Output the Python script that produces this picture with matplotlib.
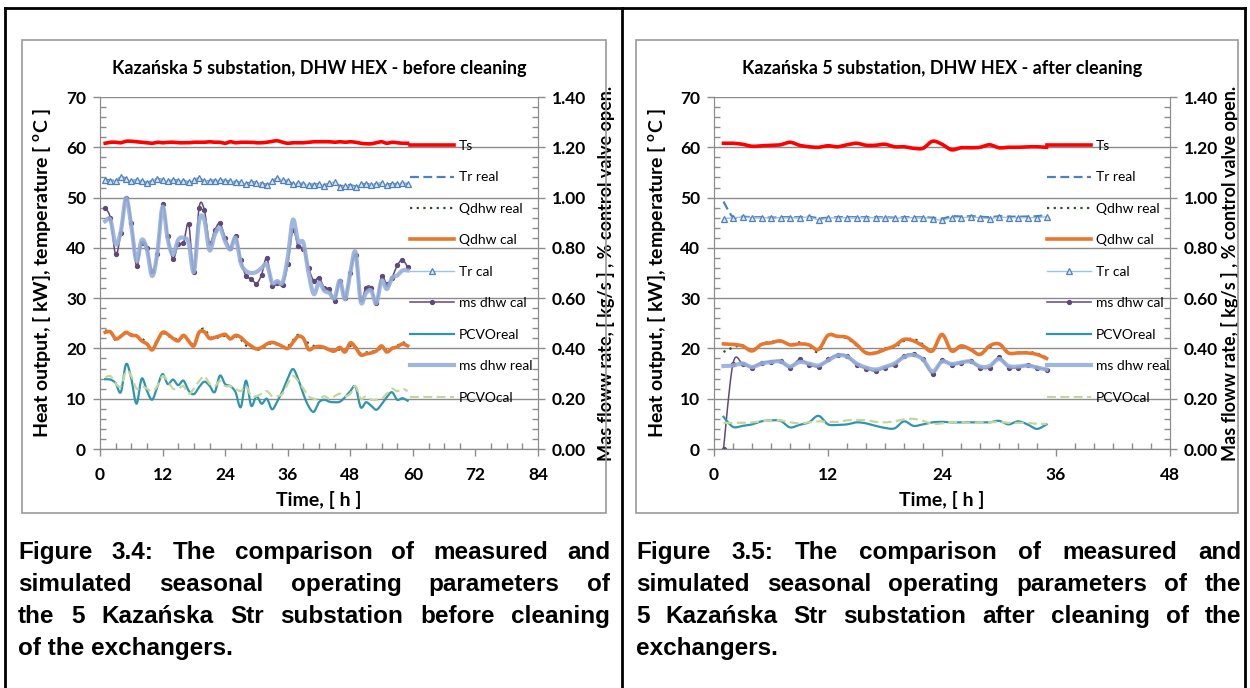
import numpy as np
import matplotlib
matplotlib.use('Agg')
import matplotlib.pyplot as plt
from matplotlib.lines import Line2D
from matplotlib.patches import Rectangle
from matplotlib.font_manager import FontProperties
from matplotlib.ticker import MultipleLocator, FormatStrFormatter

plt.rcParams['font.family'] = ['Lato', 'DejaVu Sans']

# ---- data, "before cleaning" (hours 1..59) ----
hours_a = list(range(1, 60))
ts_a = [60.8, 61.0, 61.0, 60.9, 61.2, 61.2, 61.1, 61.0, 60.9, 60.8,
        61.0, 60.9, 61.0, 61.0, 60.9, 60.9, 60.9, 61.0, 61.0, 61.0,
        61.1, 61.0, 61.0, 60.8, 61.1, 60.9, 61.0, 61.0, 61.0, 60.9,
        60.9, 61.0, 61.2, 61.3, 61.0, 60.8, 60.9, 60.9, 60.9, 61.0,
        61.1, 61.1, 61.1, 61.1, 61.0, 61.1, 61.0, 61.1, 61.0, 60.8,
        60.7, 60.7, 60.9, 61.1, 60.8, 61.0, 60.9, 60.8, 60.8]
tr_real_a = [53.6, 53.4, 53.4, 54.0, 53.8, 53.3, 53.5, 53.4, 52.9, 53.4,
             53.7, 53.5, 53.3, 53.4, 53.4, 53.3, 53.1, 53.5, 53.8, 53.3,
             53.3, 53.4, 53.5, 53.3, 53.3, 53.1, 53.0, 52.8, 53.0, 53.0,
             52.8, 52.6, 53.2, 53.8, 53.4, 53.3, 52.7, 52.8, 52.7, 52.6,
             52.6, 52.7, 52.5, 52.8, 53.0, 52.3, 52.4, 52.5, 52.2, 52.6,
             52.7, 52.6, 52.7, 52.8, 52.6, 52.7, 52.7, 52.8, 52.7]
tr_cal_a = [53.5, 53.3, 53.3, 54.0, 53.7, 53.2, 53.5, 53.3, 52.8, 53.3,
            53.7, 53.4, 53.2, 53.4, 53.3, 53.3, 53.0, 53.5, 53.8, 53.2,
            53.3, 53.3, 53.5, 53.3, 53.2, 53.0, 53.0, 52.7, 53.0, 52.9,
            52.7, 52.5, 53.2, 53.8, 53.4, 53.3, 52.6, 52.8, 52.6, 52.5,
            52.5, 52.7, 52.4, 52.8, 53.0, 52.2, 52.3, 52.4, 52.1, 52.6,
            52.6, 52.5, 52.7, 52.8, 52.5, 52.6, 52.7, 52.8, 52.6]
q_real_a = [23.5, 23.4, 21.6, 22.5, 23.0, 22.8, 22.4, 22.0, 21.0, 19.9,
            21.7, 23.0, 22.5, 22.1, 21.8, 22.3, 21.7, 20.8, 23.3, 23.9,
            22.4, 22.0, 22.3, 22.5, 22.0, 22.4, 21.8, 20.6, 20.2, 19.7,
            20.0, 20.7, 21.0, 20.8, 20.4, 20.4, 21.6, 22.7, 22.0, 21.0,
            20.5, 20.3, 20.1, 19.6, 19.4, 19.8, 19.6, 20.5, 20.3, 19.0,
            19.2, 19.3, 19.6, 20.0, 19.7, 20.1, 20.5, 21.2, 20.8]
q_cal_a = [23.2, 23.3, 21.9, 22.4, 23.2, 22.6, 22.5, 21.5, 20.9, 19.7,
           21.5, 23.2, 22.8, 22.0, 21.5, 22.6, 21.5, 20.5, 23.2, 23.3,
           22.0, 22.2, 22.5, 22.8, 21.9, 22.6, 22.2, 21.2, 20.5, 19.9,
           20.2, 20.9, 21.2, 20.9, 20.4, 20.0, 21.2, 22.4, 22.0, 19.8,
           20.2, 20.4, 20.2, 19.7, 19.5, 20.2, 19.3, 21.1, 20.2, 18.7,
           18.9, 19.1, 19.5, 20.5, 19.3, 20.0, 20.3, 20.9, 20.5]
# mass flow [kg/s] and valve opening [-] on the secondary axis
ms_cal_a = [0.958, 0.918, 0.774, 0.860, 1.000, 0.900, 0.728, 0.820, 0.800, 0.708,
            0.774, 0.974, 0.846, 0.756, 0.814, 0.820, 0.896, 0.704, 0.960, 0.952,
            0.820, 0.870, 0.898, 0.840, 0.800, 0.846, 0.752, 0.688, 0.678, 0.658,
            0.694, 0.760, 0.648, 0.662, 0.652, 0.734, 0.872, 0.806, 0.796, 0.720,
            0.670, 0.682, 0.642, 0.636, 0.590, 0.668, 0.602, 0.700, 0.770, 0.596,
            0.642, 0.642, 0.582, 0.688, 0.656, 0.682, 0.730, 0.752, 0.724]
ms_real_a = [0.906, 0.912, 0.814, 0.866, 0.998, 0.886, 0.748, 0.832, 0.794, 0.688,
             0.780, 0.964, 0.832, 0.774, 0.832, 0.840, 0.820, 0.704, 0.906, 0.912,
             0.790, 0.852, 0.880, 0.826, 0.794, 0.840, 0.740, 0.708, 0.700, 0.704,
             0.720, 0.734, 0.662, 0.668, 0.662, 0.760, 0.912, 0.826, 0.820, 0.700,
             0.616, 0.662, 0.630, 0.620, 0.600, 0.670, 0.596, 0.700, 0.784, 0.586,
             0.620, 0.630, 0.580, 0.670, 0.636, 0.680, 0.690, 0.710, 0.710]
pcvo_real_a = [0.278, 0.276, 0.262, 0.226, 0.338, 0.280, 0.180, 0.280, 0.232, 0.196,
               0.248, 0.298, 0.258, 0.276, 0.254, 0.272, 0.232, 0.218, 0.246, 0.268,
               0.252, 0.226, 0.292, 0.258, 0.250, 0.226, 0.166, 0.272, 0.172, 0.210,
               0.180, 0.200, 0.158, 0.190, 0.230, 0.280, 0.318, 0.278, 0.218, 0.170,
               0.148, 0.186, 0.196, 0.188, 0.186, 0.188, 0.206, 0.230, 0.248, 0.166,
               0.186, 0.172, 0.156, 0.178, 0.206, 0.226, 0.196, 0.202, 0.192]
pcvo_cal_a = [0.284, 0.290, 0.260, 0.250, 0.310, 0.290, 0.240, 0.250, 0.240, 0.230,
              0.250, 0.290, 0.270, 0.240, 0.240, 0.250, 0.220, 0.240, 0.270, 0.290,
              0.260, 0.250, 0.270, 0.250, 0.250, 0.240, 0.230, 0.250, 0.210, 0.210,
              0.220, 0.230, 0.210, 0.210, 0.220, 0.260, 0.290, 0.270, 0.240, 0.210,
              0.200, 0.200, 0.210, 0.200, 0.210, 0.220, 0.210, 0.220, 0.250, 0.200,
              0.210, 0.196, 0.196, 0.200, 0.220, 0.240, 0.230, 0.240, 0.230]

# ---- data, "after cleaning" (hours 1..35) ----
hours_b = list(range(1, 36))
ts_b = [60.8, 60.8, 60.6, 60.2, 60.3, 60.4, 60.5, 61.0, 60.4, 60.1,
        60.0, 60.3, 60.1, 60.5, 60.8, 60.4, 60.4, 60.6, 60.1, 60.1,
        59.8, 59.8, 61.2, 60.6, 59.5, 59.9, 59.9, 60.0, 60.5, 59.9,
        60.0, 60.0, 60.1, 60.1, 60.0]
tr_real_b = [49.2, 46.1, 46.2, 46.1, 46.1, 46.0, 46.1, 46.1, 46.1, 46.2,
             45.9, 46.0, 46.1, 46.1, 46.1, 46.1, 46.1, 46.1, 46.0, 46.1,
             46.1, 46.1, 46.0, 45.8, 46.3, 46.2, 46.3, 46.2, 46.1, 46.3,
             46.2, 46.2, 46.2, 46.3, 46.5]
tr_cal_b = [45.8, 46.0, 46.1, 46.0, 46.0, 45.9, 46.0, 46.0, 46.0, 46.1,
            45.6, 45.9, 46.0, 46.0, 46.0, 46.0, 46.0, 46.0, 45.9, 46.0,
            46.0, 46.0, 45.8, 45.5, 46.0, 46.0, 46.1, 46.0, 45.8, 46.1,
            46.0, 46.0, 46.0, 46.0, 46.2]
q_real_b = [19.3, 20.2, 20.6, 19.7, 20.9, 21.3, 21.4, 20.8, 21.2, 20.6,
            19.3, 22.7, 22.5, 22.0, 20.6, 19.2, 19.2, 20.0, 20.2, 21.5,
            21.9, 20.8, 19.6, 22.6, 19.7, 20.4, 19.9, 18.9, 20.2, 21.0,
            19.2, 19.2, 19.3, 19.0, 18.2]
q_cal_b = [20.9, 20.8, 20.5, 19.5, 20.8, 21.1, 21.5, 20.7, 20.9, 20.7,
           19.8, 22.6, 22.4, 22.2, 20.8, 19.1, 19.1, 19.8, 20.5, 21.8,
           21.5, 20.5, 19.5, 22.8, 19.5, 20.5, 19.8, 18.8, 20.5, 20.9,
           19.1, 19.1, 19.1, 18.8, 18.0]
ms_cal_b = [0.000, 0.340, 0.340, 0.324, 0.344, 0.348, 0.350, 0.324, 0.356, 0.336,
            0.328, 0.356, 0.374, 0.370, 0.336, 0.320, 0.310, 0.324, 0.336, 0.370,
            0.378, 0.356, 0.300, 0.352, 0.334, 0.344, 0.350, 0.324, 0.324, 0.364,
            0.324, 0.324, 0.334, 0.324, 0.316]
ms_real_b = [0.330, 0.332, 0.340, 0.326, 0.340, 0.346, 0.348, 0.328, 0.346, 0.340,
             0.332, 0.352, 0.372, 0.368, 0.340, 0.324, 0.316, 0.326, 0.340, 0.366,
             0.374, 0.356, 0.308, 0.348, 0.338, 0.344, 0.348, 0.328, 0.330, 0.358,
             0.330, 0.328, 0.332, 0.324, 0.316]
pcvo_real_b = [0.128, 0.088, 0.092, 0.098, 0.110, 0.114, 0.112, 0.086, 0.096, 0.106,
               0.132, 0.098, 0.096, 0.098, 0.106, 0.102, 0.092, 0.084, 0.082, 0.110,
               0.092, 0.098, 0.106, 0.108, 0.106, 0.106, 0.106, 0.106, 0.106, 0.112,
               0.098, 0.110, 0.098, 0.080, 0.098]
pcvo_cal_b = [0.104, 0.104, 0.104, 0.106, 0.110, 0.114, 0.114, 0.106, 0.102, 0.106,
              0.110, 0.108, 0.108, 0.114, 0.116, 0.114, 0.108, 0.106, 0.110, 0.118,
              0.120, 0.112, 0.100, 0.102, 0.108, 0.106, 0.104, 0.106, 0.106, 0.108,
              0.104, 0.104, 0.104, 0.100, 0.100]

titles = ['Kazańska 5 substation, DHW HEX - before cleaning',
          'Kazańska 5 substation, DHW HEX - after cleaning']
captions = [
    ['Figure 3.4: The comparison of measured and',
     'simulated seasonal operating parameters of',
     'the 5 Kazańska Str substation before cleaning',
     'of the exchangers.'],
    ['Figure 3.5: The comparison of measured and',
     'simulated seasonal operating parameters of the',
     '5 Kazańska Str substation after cleaning of the',
     'exchangers.'],
]

W, H = 1250, 688
GRID = '#8C8C8C'


def smooth(x, y, n=10):
    # Catmull-Rom curve through the points, like Excel's smoothed line
    x = np.asarray(x, float)
    y = np.asarray(y, float)
    px = np.concatenate([[x[0]], x, [x[-1]]])
    py = np.concatenate([[y[0]], y, [y[-1]]])
    t = np.linspace(0, 1, n, endpoint=False)[:, None]
    xs, ys = [], []
    for i in range(1, len(px) - 2):
        for p, out in ((px, xs), (py, ys)):
            p0, p1, p2, p3 = p[i - 1], p[i], p[i + 1], p[i + 2]
            c = 0.5 * ((2 * p1) + (-p0 + p2) * t + (2 * p0 - 5 * p1 + 4 * p2 - p3) * t ** 2
                       + (-p0 + 3 * p1 - 3 * p2 + p3) * t ** 3)
            out.extend(c.ravel())
    xs.append(x[-1])
    ys.append(y[-1])
    return np.array(xs), np.array(ys)


def draw_chart(ax, hrs, ts, tr_real, tr_cal, q_real, q_cal, ms_cal, ms_real,
               pcvo_real, pcvo_cal, xmax, xminor, title, leg_x):
    ax2 = ax.twinx()
    n = 10
    h = []
    h += ax.plot(*smooth(hrs, ts, n), color='#FF0000', lw=2.6, label='Ts')
    h += ax.plot(*smooth(hrs, tr_real, n), color='#4F81BD', lw=1.6, ls=(0, (4, 2)), label='Tr real')
    h += ax.plot(*smooth(hrs, q_real, n), color='#2F4F2F', lw=1.6, ls=(0, (1, 2)), label='Qdhw real')
    h += ax.plot(*smooth(hrs, q_cal, n), color='#E8772E', lw=2.6, label='Qdhw cal')
    h += ax.plot(*smooth(hrs, tr_cal, n), color='#9DC3E6', lw=1.0, marker='^', ms=4.5,
                 mfc='#DCE6F2', mec='#4F81BD', mew=0.9, markevery=n, label='Tr cal')
    h += ax2.plot(*smooth(hrs, ms_cal, n), color='#60497A', lw=1.1, marker='o', ms=2.8,
                  markevery=n, zorder=2, label='ms dhw cal')
    h += ax2.plot(*smooth(hrs, pcvo_real, n), color='#2E95AE', lw=1.6, zorder=2, label='PCVOreal')
    h += ax2.plot(*smooth(hrs, ms_real, n), color='#95AEDB', lw=3.0, alpha=0.9, zorder=3,
                  label='ms dhw real')
    h += ax2.plot(*smooth(hrs, pcvo_cal, n), color='#C4D79B', lw=1.6, ls=(0, (4, 2)), zorder=3,
                  label='PCVOcal')
    order = ['Ts', 'Tr real', 'Qdhw real', 'Qdhw cal', 'Tr cal', 'ms dhw cal', 'PCVOreal',
             'ms dhw real', 'PCVOcal']
    by = {l.get_label(): l for l in h}
    ax2.legend([by[k] for k in order], order, loc='upper left', frameon=False,
               bbox_to_anchor=(leg_x / W, 1 - 140 / H), bbox_transform=ax.figure.transFigure,
               borderpad=0, borderaxespad=0, handlelength=3.2, handletextpad=0.3,
               labelspacing=1.4, fontsize=10, numpoints=1)

    ax.set_xlim(0, xmax)
    ax.set_ylim(0, 70)
    ax2.set_ylim(0, 1.4)
    ax.xaxis.set_major_locator(MultipleLocator(12))
    ax.xaxis.set_minor_locator(MultipleLocator(xminor))
    ax.yaxis.set_major_locator(MultipleLocator(10))
    ax.yaxis.set_minor_locator(MultipleLocator(2))
    ax2.yaxis.set_major_locator(MultipleLocator(0.2))
    ax2.yaxis.set_minor_locator(MultipleLocator(0.04))
    ax2.yaxis.set_major_formatter(FormatStrFormatter('%.2f'))

    ax.grid(axis='y', color=GRID, lw=1.0)
    ax.set_axisbelow(True)
    gl = ax.get_ygridlines()
    gl[0].set_visible(False)
    gl[-1].set_visible(False)

    for a in (ax, ax2):
        a.spines['top'].set_visible(False)
        for s in ('left', 'right', 'bottom'):
            a.spines[s].set_color(GRID)
        a.tick_params(which='major', direction='out', length=5, color=GRID, width=1,
                      labelsize=12.5)
        a.tick_params(which='minor', direction='in', length=4, color=GRID, width=1)
        for lab in a.get_xticklabels() + a.get_yticklabels():
            lab.set_fontweight('bold')
    ax.tick_params(axis='x', pad=8)
    ax.tick_params(axis='y', pad=5)
    ax2.tick_params(axis='y', pad=5)

    ax.set_title(title, fontsize=13, fontweight='bold', y=1.065, pad=0)
    ax.set_xlabel('Time, [ h ]', fontsize=14, fontweight='bold')
    ax.set_ylabel('Heat output, [ kW], temperature [ $^{\\mathregular{o}}$C ]',
                  fontsize=14, fontweight='bold')
    ax2.set_ylabel('Mas floww rate, [ kg/s ] , % control valve open.',
                   fontsize=13, fontweight='bold')
    ax.xaxis.set_label_coords(0.5, -0.118)
    return ax2


fig = plt.figure(figsize=(W / 100, H / 100), dpi=100)

ax_a = fig.add_axes([100 / W, 1 - 449 / H, 438 / W, 352 / H])
ax_b = fig.add_axes([714 / W, 1 - 449 / H, 456 / W, 352 / H])

ax2_a = draw_chart(ax_a, hours_a, ts_a, tr_real_a, tr_cal_a, q_real_a, q_cal_a, ms_cal_a,
                   ms_real_a, pcvo_real_a, pcvo_cal_a, 84, 3, titles[0], 410)
ax2_b = draw_chart(ax_b, hours_b, ts_b, tr_real_b, tr_cal_b, q_real_b, q_cal_b, ms_cal_b,
                   ms_real_b, pcvo_real_b, pcvo_cal_b, 48, 2, titles[1], 1047)
ax_a.yaxis.set_label_coords(-0.107, 0.5)
ax2_a.yaxis.set_label_coords(1.135, 0.5)
ax_b.yaxis.set_label_coords(-0.101, 0.5)
ax2_b.yaxis.set_label_coords(1.112, 0.5)

# chart frames (gray) and the table lines (black)
for x0, x1 in ((22, 606), (636, 1238)):
    fig.add_artist(Rectangle((x0 / W, 1 - 513 / H), (x1 - x0) / W, 473 / H,
                             transform=fig.transFigure, fill=False, ec='#9A9A9A', lw=1.2))
fig.add_artist(Line2D([5 / W, 1245 / W], [1 - 8 / H, 1 - 8 / H], transform=fig.transFigure,
                      color='black', lw=2))
for x in (5, 622, 1245):
    fig.add_artist(Line2D([x / W, x / W], [0, 1 - 8 / H], transform=fig.transFigure,
                          color='black', lw=2))

# justified captions
renderer = fig.canvas.get_renderer()
cap_font = FontProperties(family='Liberation Sans', weight='bold', size=17.5)
line_y = [559, 591, 623, 655]
for lines, (x0, x1) in zip(captions, ((18, 610), (636, 1241))):
    for i, (line, y) in enumerate(zip(lines, line_y)):
        if i == len(lines) - 1:
            fig.text(x0 / W, 1 - y / H, line, fontproperties=cap_font, va='baseline', ha='left')
            continue
        words = line.split()
        arts = [fig.text(0, 1 - y / H, w, fontproperties=cap_font, va='baseline', ha='left')
                for w in words]
        widths = [a.get_window_extent(renderer).width for a in arts]
        gap = (x1 - x0 - sum(widths)) / (len(words) - 1)
        x = x0
        for a, w in zip(arts, widths):
            a.set_x(x / W)
            x += w + gap

fig.savefig('out.png', dpi=100, facecolor='white')
